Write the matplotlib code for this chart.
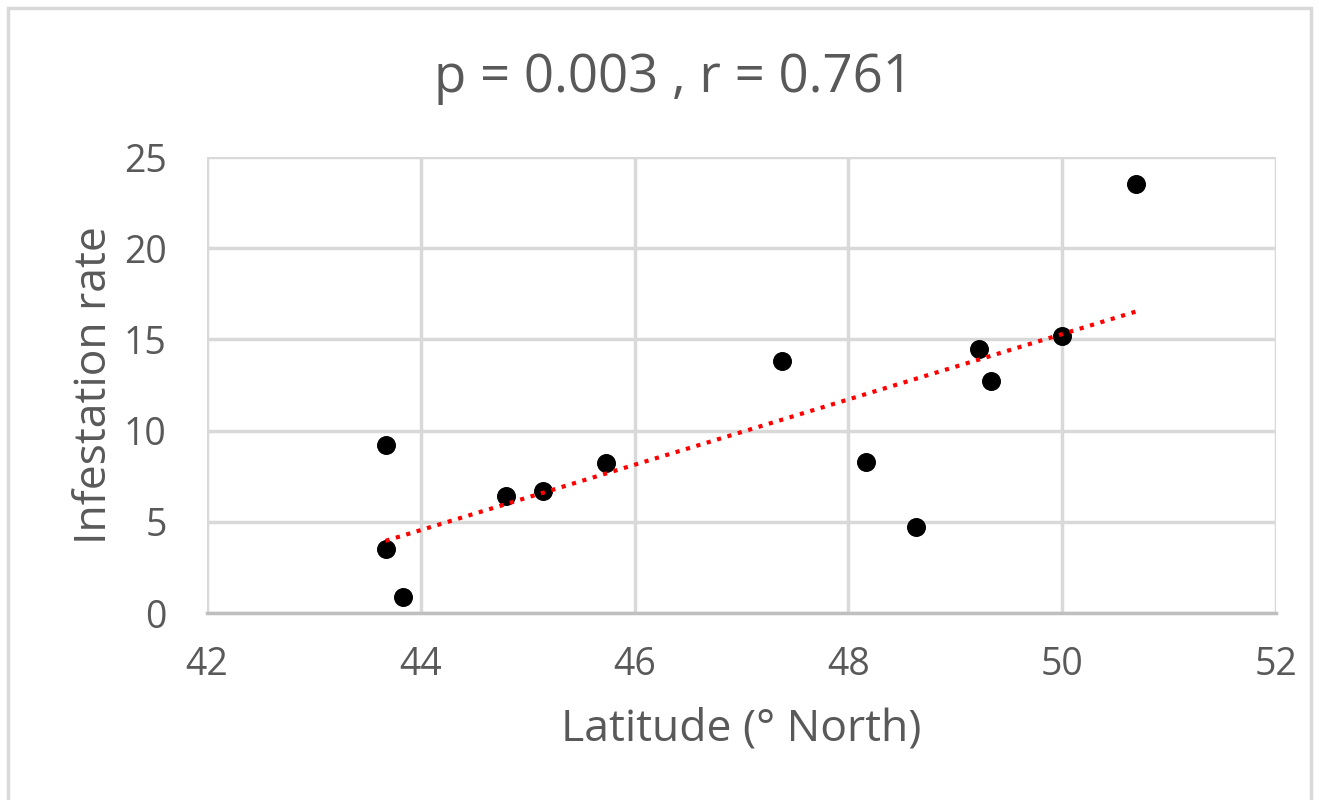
import numpy as np
import matplotlib.pyplot as plt
from matplotlib.patches import Rectangle

# Data
latitude = [43.67, 43.67, 43.83, 44.80, 45.14, 45.73, 47.38, 48.16, 48.63, 49.22, 49.33, 50.00, 50.69]
infestation = [3.5, 9.2, 0.9, 6.4, 6.7, 8.2, 13.8, 8.3, 4.7, 14.5, 12.7, 15.2, 23.5]

x_ticks = [42, 44, 46, 48, 50, 52]
y_ticks = [0, 5, 10, 15, 20, 25]

text_color = "#595959"
grid_color = "#d9d9d9"

plt.rcParams["font.family"] = ["Open Sans", "DejaVu Sans"]

fig = plt.figure(figsize=(13.19, 8), dpi=100)
ax = fig.add_axes([207 / 1319, 1 - 613 / 800, (1276 - 207) / 1319, (613 - 157) / 800])

# outer frame
fig.patches.append(Rectangle((8 / 1319, -0.01), (1311 - 8) / 1319, 1 - 8 / 800 + 0.01,
                             transform=fig.transFigure, fill=False,
                             edgecolor=grid_color, linewidth=2.5))

ax.scatter(latitude, infestation, s=160, color="black", zorder=3)

# linear trendline
slope, intercept = np.polyfit(latitude, infestation, 1)
xs = np.array([min(latitude), max(latitude)])
ax.plot(xs, slope * xs + intercept, color="red", linestyle=(0, (1, 1.6)),
        linewidth=3, zorder=4)

ax.set_xlim(42, 52)
ax.set_ylim(0, 25)
ax.set_xticks(x_ticks)
ax.set_yticks(y_ticks)
ax.grid(True, color=grid_color, linewidth=2.5)
ax.set_axisbelow(True)
for side in ["top", "right", "left"]:
    ax.spines[side].set_visible(False)
ax.spines["bottom"].set_color("#bfbfbf")
ax.spines["bottom"].set_linewidth(2.5)
ax.tick_params(length=0, labelsize=27, colors=text_color)
ax.tick_params(axis="x", pad=24)
ax.tick_params(axis="y", pad=29)

ax.set_xlabel("Latitude (° North)", fontsize=32, color=text_color, labelpad=16)
ax.set_ylabel("Infestation rate", fontsize=32, color=text_color, labelpad=5)
fig.text(673 / 1319, 1 - 78 / 800, "p = 0.003 , r = 0.761", fontsize=38,
         color=text_color, ha="center", va="center")

fig.savefig("out.png", dpi=100)
